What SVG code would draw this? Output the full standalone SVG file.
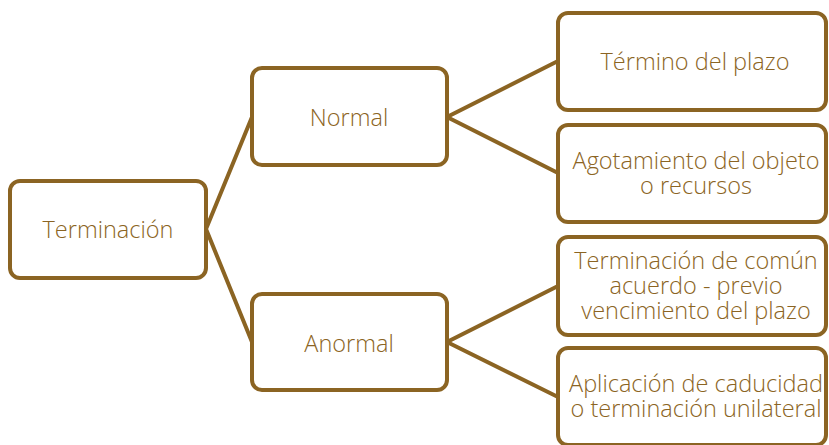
<svg xmlns="http://www.w3.org/2000/svg" width="829" height="445" viewBox="0 0 829 445">
<style>
.box{fill:#fff;stroke:#8B6423;stroke-width:4}
.lbl{font-family:"Open Sans","Noto Sans",sans-serif;font-weight:300;font-size:23.5px;fill:#8B6423;text-anchor:middle}
.con{stroke:#8B6423;stroke-width:4;fill:none}
</style>
<rect width="829" height="445" fill="#fff"/>
<g id="connectors">
<polyline class="con" points="252,117 206,229 252,342"/>
<polyline class="con" points="558,61 447,117 558,173"/>
<polyline class="con" points="558,286 447,342 558,397"/>
</g>
<g id="terminacion"><rect class="box" x="10" y="181" width="196" height="97" rx="10"/><text class="lbl" x="108" y="238">Terminación</text></g>
<g id="normal"><rect class="box" x="252" y="68" width="195" height="97" rx="10"/><text class="lbl" x="349" y="126">Normal</text></g>
<g id="anormal"><rect class="box" x="252" y="294" width="195" height="96" rx="10"/><text class="lbl" x="349" y="352">Anormal</text></g>
<g id="termino"><rect class="box" x="558" y="13" width="268" height="97" rx="10"/><text class="lbl" x="695" y="70">Término del plazo</text></g>
<g id="agotamiento"><rect class="box" x="558" y="125" width="268" height="97" rx="10"/><text class="lbl" x="696" y="169">Agotamiento del objeto</text><text class="lbl" x="696" y="194">o recursos</text></g>
<g id="comun"><rect class="box" x="558" y="237" width="268" height="98" rx="10"/><text class="lbl" x="696" y="269">Terminación de común</text><text class="lbl" x="696" y="294">acuerdo - previo</text><text class="lbl" x="696" y="319">vencimiento del plazo</text></g>
<g id="caducidad"><rect class="box" x="558" y="348" width="268" height="97" rx="10"/><text class="lbl" x="696" y="392">Aplicación de caducidad</text><text class="lbl" x="696" y="417">o terminación unilateral</text></g>
</svg>
